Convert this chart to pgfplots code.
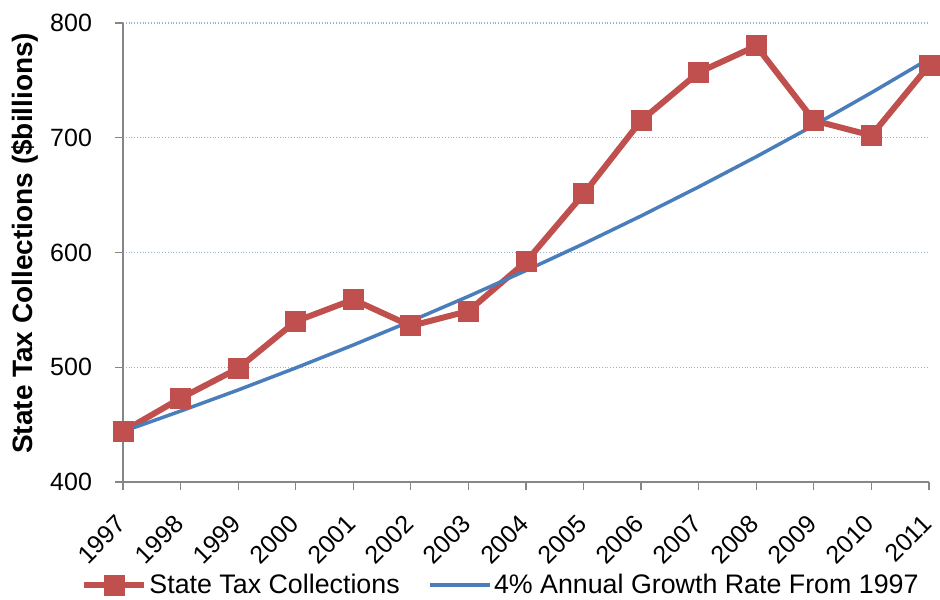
\documentclass[border=0pt]{standalone}
\usepackage{fontspec}
\setmainfont{Liberation Sans}
\usepackage{pgfplots}
\pgfplotsset{compat=1.18}
\definecolor{tred}{HTML}{C0504D}
\definecolor{tblue}{HTML}{4A7EBB}
\definecolor{axgray}{HTML}{868686}
\definecolor{gridblue}{HTML}{95B3D7}
\begin{document}
\begin{tikzpicture}
\begin{axis}[name=ax, scale only axis, width=403pt, height=229.5pt,
  xmin=1997, xmax=2011, ymin=400, ymax=800, clip=false,
  axis x line*=bottom, axis y line*=left,
  axis line style={axgray, line width=0.6pt},
  xtick={1997,...,2011}, ytick={400,500,...,800},
  tick style={axgray, line width=0.6pt}, major tick length=4pt, tick align=outside,
  ymajorgrids, grid style={gridblue, densely dotted, line width=0.6pt},
  /pgf/number format/assume math mode=true,
  xticklabel shift=14pt,
  x tick label style={/pgf/number format/1000 sep={}, rotate=45, anchor=east, inner sep=1pt, font=\fontsize{12.5}{15}\selectfont},
  y tick label style={font=\fontsize{12.5}{15}\selectfont, anchor=east, xshift=-8pt},
  ylabel={\bfseries State Tax Collections (\$billions)},
  every axis y label/.style={at={(rel axis cs:-0.1117,0.52)}, anchor=base, inner sep=0pt, rotate=90, font=\fontsize{14}{16}\selectfont},
  legend columns=2,
  legend style={draw=none, at={(0.469,-0.2244)}, anchor=center, font=\fontsize{13.4}{15}\selectfont,
    nodes={inner xsep=1.2pt},
    /tikz/every even column/.append style={column sep=13pt}},
  legend image code/.code={\draw[mark repeat=2,mark phase=2,#1] plot coordinates {(0pt,0pt)(15pt,0pt)(30pt,0pt)};},
]
\addplot[tred, line width=3pt, mark=square*, mark size=5pt, mark options={solid, line width=0.5pt, fill=tred}] coordinates {
(1997,444) (1998,473) (1999,499) (2000,540) (2001,559) (2002,536) (2003,549) (2004,592)
(2005,651) (2006,715) (2007,757) (2008,780) (2009,715) (2010,702) (2011,763)};
\addlegendentry{State Tax Collections}
\addplot[tblue, line width=1.75pt, no marks] coordinates {
(1997,444.0) (1998,461.8) (1999,480.2) (2000,499.4) (2001,519.4) (2002,540.2) (2003,561.8) (2004,584.3)
(2005,607.6) (2006,631.9) (2007,657.2) (2008,683.5) (2009,710.8) (2010,739.3) (2011,768.8)};
\addlegendentry{4\% Annual Growth Rate From 1997}
\end{axis}
\path (ax.south west) ++(-61.5pt,-58.5pt) coordinate (a);
\path (ax.north east) ++(5.5pt,11.5pt) coordinate (b);
\pgfresetboundingbox
\path[use as bounding box] (a) rectangle (b);
\end{tikzpicture}
\end{document}
